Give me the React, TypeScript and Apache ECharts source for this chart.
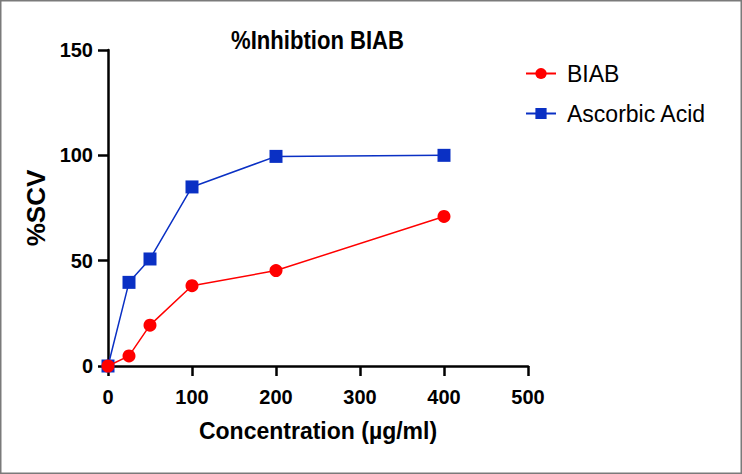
import React, { useEffect, useRef } from "react";
import * as echarts from "echarts";

const concentrations = [0, 25, 50, 100, 200, 400];
const biabValues = [0, 4.8, 19.4, 38.1, 45.3, 71.0];
const ascorbicValues = [0, 39.7, 50.8, 85.0, 99.5, 100.0];
const seriesNames = ["BIAB", "Ascorbic Acid"];
const titleText = "%Inhibtion BIAB";
const xAxisTitle = "Concentration (µg/ml)";
const yAxisTitle = "%SCV";

const FONT = "'Liberation Sans', Arial, Helvetica, sans-serif";

export default function App() {
  const ref = useRef<HTMLDivElement>(null);
  useEffect(() => {
    if (!ref.current) return;
    const chart = echarts.init(ref.current, undefined, { renderer: "svg" });
    const pairs = (vals: number[]) => concentrations.map((c, i) => [c, vals[i]]);
    chart.setOption({
      animation: false,
      backgroundColor: "#ffffff",
      textStyle: { fontFamily: FONT },
      graphic: [
        {
          type: "rect",
          silent: true,
          shape: { x: 0.75, y: 0.75, width: 740.5, height: 472.5 },
          style: { fill: "none", stroke: "#7a7a7a", lineWidth: 1.5 },
        },
        {
          type: "text",
          x: 317.5,
          y: 40,
          scaleX: 0.85,
          style: {
            x: 0,
            y: 0,
            text: titleText,
            fontFamily: FONT,
            fontWeight: "bold",
            fontSize: 26,
            fill: "#000",
            textAlign: "center",
            textVerticalAlign: "middle",
          },
        },
      ],
      legend: {
        orient: "vertical",
        left: 520,
        top: 57,
        itemWidth: 30,
        itemHeight: 14,
        itemGap: 17,
        data: seriesNames,
        textStyle: {
          fontFamily: FONT,
          fontSize: 23,
          color: "#000",
          padding: [0, 0, 0, 6],
        },
      },
      grid: { left: 108, right: 214, top: 50, bottom: 108, containLabel: false },
      xAxis: {
        type: "value",
        min: 0,
        max: 500,
        interval: 100,
        name: xAxisTitle,
        nameLocation: "middle",
        nameGap: 53,
        nameTextStyle: { fontFamily: FONT, fontWeight: "bold", fontSize: 23, color: "#000" },
        axisLine: { show: true, onZero: false, lineStyle: { color: "#000", width: 2.5 } },
        axisTick: { show: true, length: 10, lineStyle: { color: "#000", width: 2.5 } },
        axisLabel: { fontFamily: FONT, fontWeight: "bold", fontSize: 20, color: "#000", margin: 21 },
        splitLine: { show: false },
      },
      yAxis: {
        type: "value",
        min: 0,
        max: 150,
        interval: 50,
        name: yAxisTitle,
        nameLocation: "middle",
        nameGap: 59,
        nameRotate: 90,
        nameTextStyle: { fontFamily: FONT, fontWeight: "bold", fontSize: 26, color: "#000" },
        axisLine: { show: true, onZero: false, lineStyle: { color: "#000", width: 2.5 } },
        axisTick: { show: true, length: 10, lineStyle: { color: "#000", width: 2.5 } },
        axisLabel: { fontFamily: FONT, fontWeight: "bold", fontSize: 20, color: "#000", margin: 15 },
        splitLine: { show: false },
      },
      series: [
        {
          name: seriesNames[0],
          type: "line",
          z: 4,
          data: pairs(biabValues),
          symbol: "circle",
          symbolSize: 13,
          color: "#ff0000",
          lineStyle: { color: "#ff0000", width: 1.5 },
          itemStyle: { color: "#ff0000" },
        },
        {
          name: seriesNames[1],
          type: "line",
          z: 3,
          data: pairs(ascorbicValues),
          symbol: "rect",
          symbolSize: 13,
          color: "#0a30c4",
          lineStyle: { color: "#0a30c4", width: 1.5 },
          itemStyle: { color: "#0a30c4" },
        },
      ],
    });
    return () => chart.dispose();
  }, []);
  return (
    <div style={{ position: "fixed", left: 0, top: 0, width: 742, height: 474, background: "#fff" }}>
      <div ref={ref} style={{ width: 742, height: 474 }} />
    </div>
  );
}
